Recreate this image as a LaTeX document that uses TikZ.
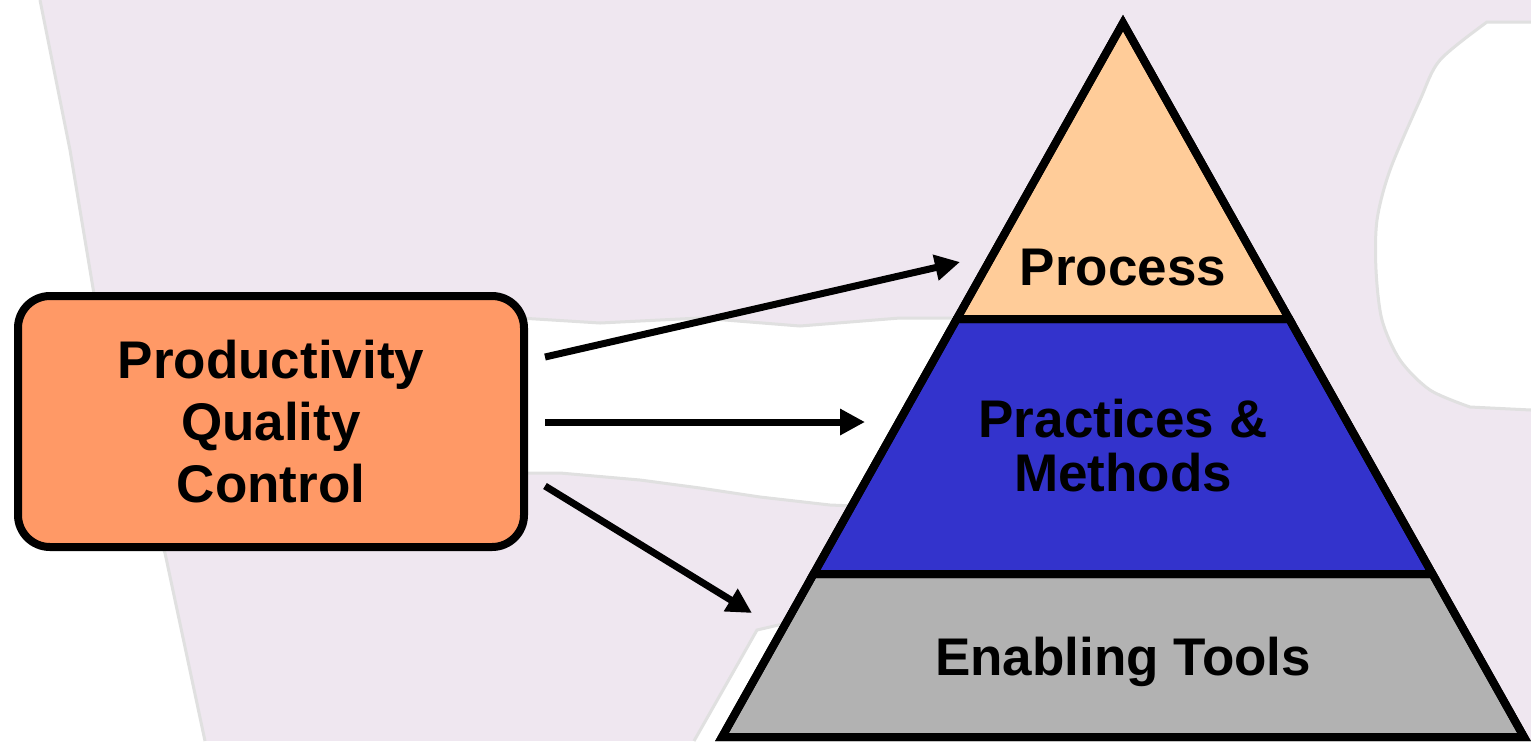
\documentclass[tikz,border=0pt]{standalone}
\usepackage{fontspec}
\setmainfont{Liberation Sans}
\usetikzlibrary{arrows.meta,calc}
\definecolor{lav}{RGB}{239,231,240}
\definecolor{boxorange}{RGB}{255,153,102}
\definecolor{procfill}{RGB}{255,204,153}
\definecolor{pracfill}{RGB}{51,51,204}
\definecolor{toolfill}{RGB}{178,178,178}
\tikzset{
  paper/.style={fill=white},
  tear/.style={draw=black!12,line width=1.5pt},
  layer/.style={draw=black,line width=4pt,line join=miter},
  lbl/.style={font=\bfseries\fontsize{26.5}{27}\selectfont,align=center,text=black,inner sep=0pt},
  qbox/.style={draw=black,line width=4pt,rounded corners=16pt,fill=boxorange,
    minimum width=253pt,minimum height=125.5pt,inner sep=0pt,align=center,
    font=\bfseries\fontsize{26.5}{31}\selectfont},
  conn/.style={draw=black,line width=3.5pt,-{Triangle[length=12.5pt,width=12.5pt]}}
}
\begin{document}
\begin{tikzpicture}[x=0.5pt,y=-0.5pt]
\useasboundingbox (0,0) rectangle (1531,741);
% background
\fill[lav] (0,0) rectangle (1531,741);
\path[paper] (0,0) -- (40,0) -- (70,150) -- (100,330) -- (130,450) -- (165,553) -- (205,741) -- (0,741) -- cycle;
\path[tear] (40,0) -- (70,150) -- (100,330) -- (130,450) -- (165,553) -- (205,741);
\path[paper] (520,318) -- (600,323) -- (700,318) -- (800,326) -- (900,318) -- (1000,318)
  -- (1000,512) -- (830,505) -- (760,497) -- (700,488) -- (640,480) -- (560,473) -- (520,473) -- cycle;
\path[tear] (520,318) -- (600,323) -- (700,318) -- (800,326) -- (900,318) -- (1000,318);
\path[tear] (1000,512) -- (830,505) -- (760,497) -- (700,488) -- (640,480) -- (560,473) -- (520,473);
\path[paper] (694,741) -- (740,660) -- (757,630) -- (800,620) -- (800,741) -- cycle;
\path[tear] (694,741) -- (740,660) -- (757,630) -- (800,620);
\path[paper] (1531,22) -- (1487,22) -- plot[smooth] coordinates {(1487,22) (1440,60) (1420,100) (1390,170) (1377,220) (1376,270) (1382,320) (1400,360) (1430,390) (1470,407)} -- (1531,410) -- cycle;
\path[tear] (1531,22) -- (1487,22) -- plot[smooth] coordinates {(1487,22) (1440,60) (1420,100) (1390,170) (1377,220) (1376,270) (1382,320) (1400,360) (1430,390) (1470,407)} -- (1531,410);
% pyramid
\coordinate (A) at (1123,23);
\coordinate (BL) at (722,737);
\coordinate (BR) at (1524,737);
\coordinate (L1) at ($(A)!0.4146!(BL)$);
\coordinate (R1) at ($(A)!0.4146!(BR)$);
\coordinate (L2) at ($(A)!0.7717!(BL)$);
\coordinate (R2) at ($(A)!0.7717!(BR)$);
\path[layer,fill=toolfill] (L2) -- (R2) -- (BR) -- (BL) -- cycle;
\path[layer,fill=pracfill] (L1) -- (R1) -- (R2) -- (L2) -- cycle;
\path[layer,fill=procfill] (A) -- (R1) -- (L1) -- cycle;
\draw[layer] (A) -- (BR) -- (BL) -- cycle;
\node[lbl] (proc) at (1123,268) {Process};
\node[lbl] (prac) at (1123,446) {Practices \&\\Methods};
\node[lbl] (tools) at (1123,662) {Enabling Tools};
% left box
\node[qbox] (drivers) at (271,421.5) {Productivity\\Quality\\Control};
% connectors
\coordinate (s1) at (545,357);
\coordinate (s2) at (545,422);
\coordinate (s3) at (545,486);
\coordinate (t1) at (960,262);
\coordinate (t2) at (865,422);
\coordinate (t3) at (752,613);
\draw[conn] (s1) -- (t1);
\draw[conn] (s2) -- (t2);
\draw[conn] (s3) -- (t3);
\end{tikzpicture}
\end{document}
